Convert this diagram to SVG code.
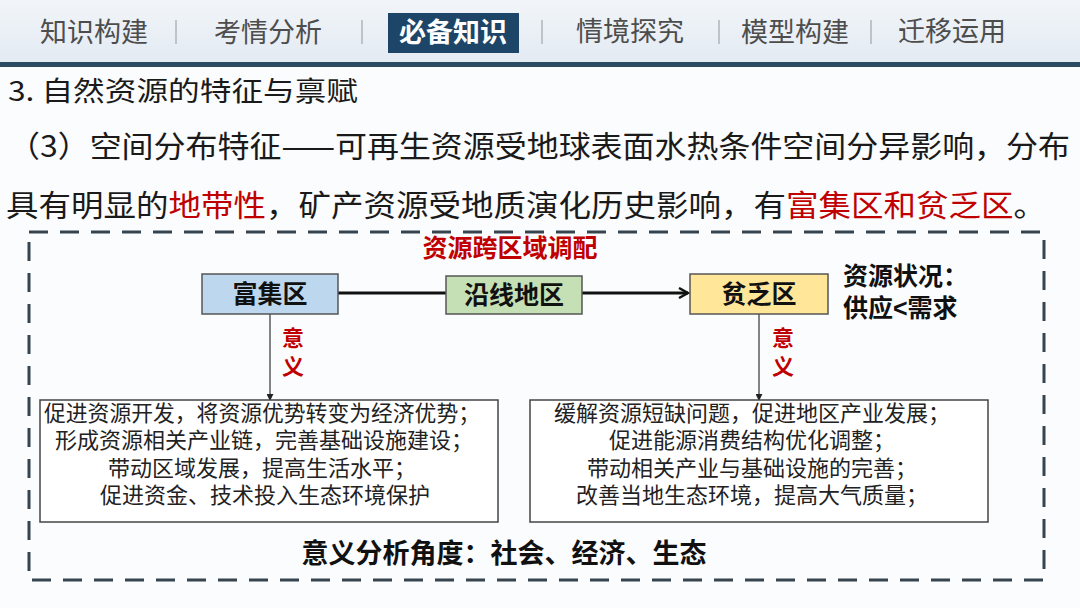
<svg xmlns="http://www.w3.org/2000/svg" width="1080" height="608" viewBox="0 0 1080 608">
<defs>
<linearGradient id="hdr" x1="0" y1="0" x2="0" y2="1">
<stop offset="0" stop-color="#f1f5f9"/>
<stop offset="1" stop-color="#e3eaf2"/>
</linearGradient>
<marker id="big" viewBox="0 0 12 12" refX="10" refY="6" markerWidth="12" markerHeight="12" markerUnits="userSpaceOnUse" orient="auto">
<path d="M1,1 L10,6 L1,11" fill="none" stroke="#111" stroke-width="2.4"/>
</marker>
<marker id="small" viewBox="0 0 8 8" refX="7" refY="4" markerWidth="7" markerHeight="7" markerUnits="userSpaceOnUse" orient="auto">
<path d="M0,0 L8,4 L0,8 Z" fill="#222"/>
</marker>
</defs>
<style>
text{font-family:"Noto Sans CJK SC","Liberation Sans",sans-serif;}
.tab{font-size:27px;fill:#4d4d4d;text-anchor:middle;}
.sep{stroke:#b0b4b8;stroke-width:1.5;}
.red{fill:#c00000;}
.node{stroke:#555;stroke-width:1.5;}
.nt{font-size:25px;font-weight:bold;fill:#111;text-anchor:middle;}
.yi{font-family:"Liberation Sans","Noto Sans CJK SC",sans-serif;font-size:22px;font-weight:bold;fill:#c00000;text-anchor:middle;}
.st{font-family:"Liberation Sans","Noto Sans CJK SC",sans-serif;font-size:25px;font-weight:bold;fill:#111;}
.box{fill:#fff;stroke:#444;stroke-width:1.5;}
.bt{font-family:"Liberation Sans","Noto Sans CJK SC",sans-serif;font-size:22px;fill:#222;text-anchor:middle;}
</style>
<rect x="0" y="0" width="1080" height="608" fill="#fbfcfd"/>
<rect x="0" y="0" width="1080" height="64" fill="url(#hdr)"/>
<rect x="0" y="62" width="1080" height="5" fill="#2c4a62"/>
<g id="tabs">
<text class="tab" x="94" y="42">知识构建</text>
<line class="sep" x1="176" y1="20" x2="176" y2="44"/>
<text class="tab" x="268" y="42">考情分析</text>
<line class="sep" x1="362" y1="20" x2="362" y2="44"/>
<rect x="388" y="13" width="131" height="40" fill="#1d4568"/>
<text class="tab" x="453" y="42" style="fill:#fff;font-weight:bold">必备知识</text>
<line class="sep" x1="542" y1="20" x2="542" y2="44"/>
<text class="tab" x="630" y="41">情境探究</text>
<line class="sep" x1="719" y1="20" x2="719" y2="44"/>
<text class="tab" x="795" y="42">模型构建</text>
<line class="sep" x1="871" y1="20" x2="871" y2="44"/>
<text class="tab" x="952" y="41">迁移运用</text>
</g>
<text x="8" y="101" font-size="27" fill="#1a1a1a" textLength="350" lengthAdjust="spacingAndGlyphs">3. 自然资源的特征与禀赋</text>
<text x="8" y="157" font-size="30" fill="#1a1a1a" textLength="1062" lengthAdjust="spacingAndGlyphs">（3）空间分布特征——可再生资源受地球表面水热条件空间分异影响，分布</text>
<text x="6" y="216" font-size="30" fill="#1a1a1a" textLength="1040" lengthAdjust="spacingAndGlyphs">具有明显的<tspan class="red">地带性</tspan>，矿产资源受地质演化历史影响，有<tspan class="red">富集区和贫乏区</tspan>。</text>
<rect x="29" y="232" width="1015" height="348" fill="none" stroke="#36444f" stroke-width="3" stroke-dasharray="19,12"/>
<text x="510" y="257" font-size="25" font-weight="bold" fill="#c00000" text-anchor="middle">资源跨区域调配</text>
<g id="connectors">
<line x1="338" y1="293" x2="446" y2="293" stroke="#111" stroke-width="3"/>
<line x1="582" y1="293" x2="688" y2="293" stroke="#111" stroke-width="3" marker-end="url(#big)"/>
<line x1="270" y1="314" x2="270" y2="400" stroke="#333" stroke-width="1.2" marker-end="url(#small)"/>
<line x1="759" y1="314" x2="759" y2="400" stroke="#333" stroke-width="1.2" marker-end="url(#small)"/>
</g>
<g id="rich">
<rect class="node" x="202" y="274" width="136" height="40" fill="#bdd7ee"/>
<text class="nt" x="270" y="303">富集区</text>
</g>
<g id="along">
<rect class="node" x="446" y="276" width="136" height="38" fill="#c5e0b4"/>
<text class="nt" x="514" y="304">沿线地区</text>
</g>
<g id="poor">
<rect class="node" x="690" y="274" width="138" height="40" fill="#ffe699"/>
<text class="nt" x="759" y="303">贫乏区</text>
</g>
<g id="status">
<text class="st" x="843" y="285">资源状况：</text>
<text class="st" x="843" y="317">供应&lt;需求</text>
</g>
<g id="yi-left">
<text class="yi" x="293" y="346">意</text>
<text class="yi" x="293" y="374">义</text>
</g>
<g id="yi-right">
<text class="yi" x="783" y="346">意</text>
<text class="yi" x="783" y="374">义</text>
</g>
<g id="left-box">
<rect class="box" x="40" y="400" width="458" height="122"/>
<text class="bt" x="262" y="421" textLength="436" lengthAdjust="spacingAndGlyphs">促进资源开发，将资源优势转变为经济优势；</text>
<text class="bt" x="264" y="448">形成资源相关产业链，完善基础设施建设；</text>
<text class="bt" x="262" y="476">带动区域发展，提高生活水平；</text>
<text class="bt" x="265" y="503">促进资金、技术投入生态环境保护</text>
</g>
<g id="right-box">
<rect class="box" x="530" y="400" width="458" height="122"/>
<text class="bt" x="752" y="421">缓解资源短缺问题，促进地区产业发展；</text>
<text class="bt" x="752" y="448">促进能源消费结构优化调整；</text>
<text class="bt" x="752" y="476">带动相关产业与基础设施的完善；</text>
<text class="bt" x="752" y="503">改善当地生态环境，提高大气质量；</text>
</g>
<text x="504" y="563" font-size="27" font-weight="bold" fill="#111" text-anchor="middle">意义分析角度：社会、经济、生态</text>
</svg>
